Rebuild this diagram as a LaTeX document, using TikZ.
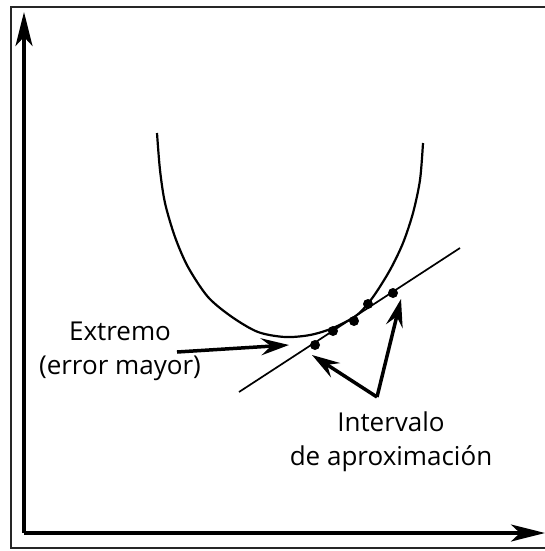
\documentclass[tikz,border=0pt]{standalone}
\usepackage{fontspec}
\setmainfont{Open Sans}
\usetikzlibrary{arrows.meta}
\tikzset{
  frameline/.style={line width=1.2pt, black!85},
  axis/.style={line width=3.2pt, -{Stealth[length=34pt,width=17pt,inset=9pt]}},
  ptr/.style={line width=3.5pt, -{Stealth[length=28pt,width=17pt,inset=10pt]}},
  dot/.style={circle, fill=black, inner sep=0pt, minimum size=10pt},
  lbl/.style={align=center, font=\fontsize{26}{34}\selectfont, inner sep=0pt},
  curve/.style={line width=2.2pt},
  tline/.style={line width=1.7pt}
}
\begin{document}
\begin{tikzpicture}[x=1pt,y=-1pt]
\useasboundingbox (0,0) rectangle (545,551);
% frame
\draw[frameline] (548,7) -- (11,7) -- (11,548) -- (548,548);
% axes
\coordinate (o) at (24,533);
\coordinate (ytip) at (24,12);
\coordinate (xtip) at (545,533);
\draw[axis] (o) -- (ytip);
\draw[axis] (o) -- (xtip);
% curve
\draw[curve] plot[smooth] coordinates {(157,133) (160,170) (165,203) (175,237) (188,267) (208,297) (232,317) (258,332) (285,337) (310,335) (333,328) (357,315) (373,297) (390,270) (403,243) (413,213) (420,180) (423,143)};
% tangent line
\coordinate (t1) at (239,392);
\coordinate (t2) at (460,248);
\draw[tline] (t1) -- (t2);
% dots
\node[dot] (d1) at (315,345) {};
\node[dot] (d2) at (333,331) {};
\node[dot] (d3) at (354,321) {};
\node[dot] (d4) at (368,304) {};
\node[dot] (d5) at (393,293) {};
% labels
\node[lbl] (ext) at (120,351) {Extremo\\(error mayor)};
\node[lbl] (int) at (391,442) {Intervalo\\de aproximación};
% arrows
\coordinate (e1) at (177,352);
\coordinate (e2) at (289,345);
\draw[ptr] (e1) -- (e2);
\coordinate (v) at (377,397);
\coordinate (a1) at (312,355);
\coordinate (a2) at (401,299);
\draw[ptr] (v) -- (a1);
\draw[ptr] (v) -- (a2);
\end{tikzpicture}
\end{document}
